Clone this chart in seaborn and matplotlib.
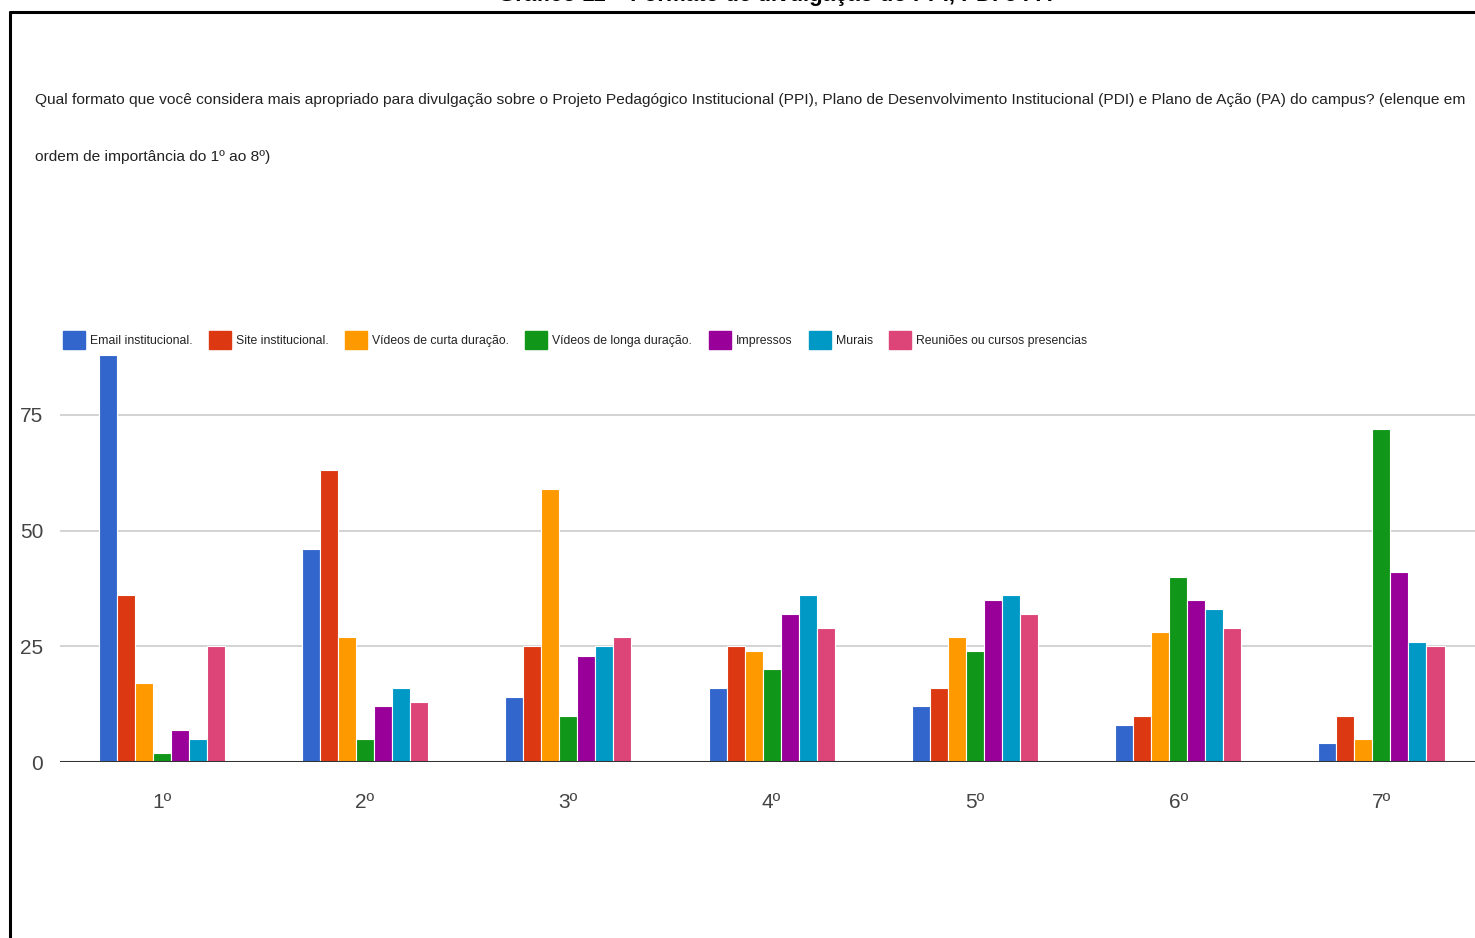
import matplotlib
matplotlib.use("Agg")
import matplotlib.pyplot as plt
from matplotlib.lines import Line2D
import seaborn as sns
import pandas as pd

# ---- data ----
categories = ["1º", "2º", "3º", "4º", "5º", "6º", "7º"]
series_names = ["Email institucional.", "Site institucional.", "Vídeos de curta duração.",
                "Vídeos de longa duração.", "Impressos", "Murais", "Reuniões ou cursos presencias"]
email = [88, 46, 14, 16, 12, 8, 4]
site = [36, 63, 25, 25, 16, 10, 10]
curta = [17, 27, 59, 24, 27, 28, 5]
longa = [2, 5, 10, 20, 24, 40, 72]
impressos = [7, 12, 23, 32, 35, 35, 41]
murais = [5, 16, 25, 36, 36, 33, 26]
reunioes = [25, 13, 27, 29, 32, 29, 25]
yticks = [0, 25, 50, 75]
colors = ["#3366CC", "#DC3912", "#FF9900", "#109618", "#990099", "#0099C6", "#DD4477"]
question = ("Qual formato que você considera mais apropriado para divulgação sobre o Projeto Pedagógico "
            "Institucional (PPI), Plano de Desenvolvimento Institucional (PDI) e Plano de Ação (PA) do campus? (elenque em")
question2 = "ordem de importância do 1º ao 8º)"
top_title = "Gráfico 11 – Formato de divulgação do PPI, PDI e PA"

values = [email, site, curta, longa, impressos, murais, reunioes]
rows = []
for name, vals in zip(series_names, values):
    for c, v in zip(categories, vals):
        rows.append({"cat": c, "serie": name, "val": v})
df = pd.DataFrame(rows)

sns.set_theme(style="white")
plt.rcParams["font.family"] = ["Liberation Sans", "DejaVu Sans"]

W, H = 1475, 938
fig = plt.figure(figsize=(W / 100, H / 100), dpi=100)
ax = fig.add_axes([60 / W, 1 - 762 / H, 1 - 60 / W, (762 - 350) / H])

sns.barplot(data=df, x="cat", y="val", hue="serie", palette=colors, order=categories,
            hue_order=series_names, width=0.62, ax=ax, legend=False,
            edgecolor="white", linewidth=0.8, saturation=1)

ax.set_xlim(-0.5, 6.46)
ax.set_ylim(0, 89)
ax.set_yticks(yticks)
ax.yaxis.grid(True, color="#cccccc", linewidth=1.2)
ax.set_axisbelow(True)
for s in ax.spines.values():
    s.set_visible(False)
ax.axhline(0, color="#333333", linewidth=2.2, zorder=5)
ax.set_xlabel("")
ax.set_ylabel("")
ax.tick_params(axis="both", length=0, labelsize=15, colors="#444444")
ax.tick_params(axis="x", pad=22)
ax.tick_params(axis="y", pad=12)

# legend
handles = [plt.Rectangle((0, 0), 1, 1, color=c) for c in colors]
fig.legend(handles, series_names, loc="center left", bbox_to_anchor=(58 / W, 1 - 340 / H),
           ncol=7, frameon=False, fontsize=8.8, handlelength=1.8, handleheight=1.8,
           handletextpad=0.4, columnspacing=1.35, labelcolor="#222222", borderaxespad=0)

# question text (fit width)
renderer = fig.canvas.get_renderer()
t1 = fig.text(35 / W, 1 - 100 / H, question, ha="left", va="center", fontsize=20, color="#222222")
bb = t1.get_window_extent(renderer)
fs = 20 * (1425 / bb.width)
t1.set_fontsize(fs)
fig.text(35 / W, 1 - 157 / H, question2, ha="left", va="center", fontsize=fs, color="#222222")

# cut-off title at top (only its lower edge is visible in the source)
fig.text(775 / W, 1 - 1.0 / H, top_title, ha="center", va="baseline", fontsize=16,
         fontweight="bold", color="black")

# frame
fig.add_artist(Line2D([10 / W, 10 / W], [0, 1 - 12 / H], color="black", linewidth=2.2))
fig.add_artist(Line2D([10 / W, 1], [1 - 12 / H, 1 - 12 / H], color="black", linewidth=2.2))

fig.savefig("out.png", dpi=100, facecolor="white")
